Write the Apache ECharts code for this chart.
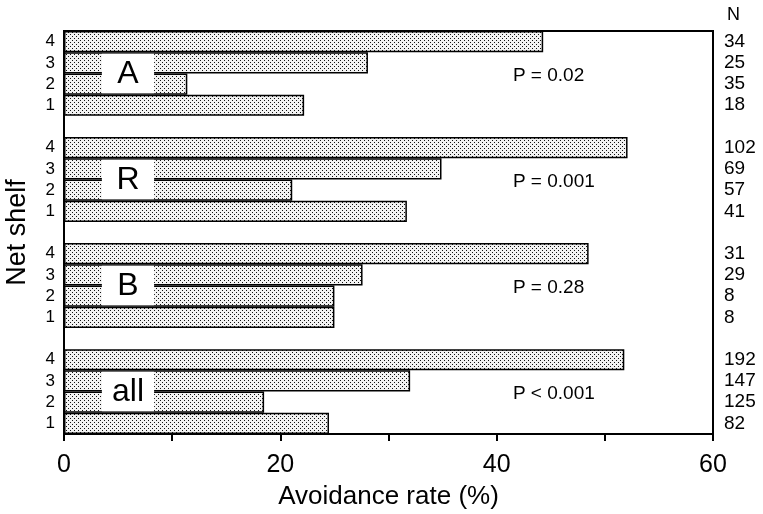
<!DOCTYPE html>
<html>
<head>
<meta charset="utf-8">
<title>Avoidance rate by net shelf</title>
<script src="https://cdn.jsdelivr.net/npm/echarts@6/dist/echarts.min.js"></script>
<style>
  html, body { margin: 0; padding: 0; background: #fff; }
  #main { width: 763px; height: 514px; }
</style>
</head>
<body>
<div id="main"></div>
<script type="text/javascript">
// data
var groups = ['A', 'R', 'B', 'all'];
var shelves = ['4', '3', '2', '1'];
var rateA = [44.3, 28.1, 11.4, 22.2];
var rateR = [52.1, 34.9, 21.1, 31.7];
var rateB = [48.5, 27.6, 25.0, 25.0];
var rateAll = [51.8, 32.0, 18.5, 24.5];
var nA = [34, 25, 35, 18];
var nR = [102, 69, 57, 41];
var nB = [31, 29, 8, 8];
var nAll = [192, 147, 125, 82];
var pLabels = ['P = 0.02', 'P = 0.001', 'P = 0.28', 'P < 0.001'];
var xTicks = [0, 20, 40, 60];

var rates = [rateA, rateR, rateB, rateAll];
var counts = [nA, nR, nB, nAll];

// build the category slots: 4 shelves per group, one empty slot between groups
var cats = [], shelfLab = [], nLab = [], barData = [];
groups.forEach(function (g, gi) {
    shelves.forEach(function (s, si) {
        cats.push(g + s);
        shelfLab.push(s);
        nLab.push(String(counts[gi][si]));
        barData.push(rates[gi][si]);
    });
    if (gi < groups.length - 1) {
        cats.push(g + '_gap');
        shelfLab.push('');
        nLab.push('');
        barData.push('-');
    }
});

// stipple fill
var tile = document.createElement('canvas');
tile.width = 4; tile.height = 4;
var tc = tile.getContext('2d');
tc.fillStyle = '#f2f2f2';
tc.fillRect(0, 0, 4, 4);
tc.fillStyle = '#111';
tc.fillRect(0, 0, 1, 1);
tc.fillRect(2, 2, 1, 1);

var font = "'Liberation Sans', Arial, sans-serif";

// annotation rows: x value, index of shelf 3 slot, index of shelf 2 slot
var boxData = groups.map(function (g, gi) { return [3.5, gi * 5 + 1, gi * 5 + 2]; });
var pData = groups.map(function (g, gi) { return [41.5, gi * 5 + 1, gi * 5 + 2]; });

var myChart = echarts.init(document.getElementById('main'));

var option = {
    backgroundColor: '#fff',
    animation: false,
    textStyle: { fontFamily: font, color: '#000' },
    grid: {
        left: 64, right: 50, top: 31, bottom: 80,
        outerBoundsMode: 'none',
        containLabel: false,
        show: true, borderColor: '#000', borderWidth: 2, backgroundColor: 'transparent'
    },
    xAxis: {
        type: 'value',
        min: 0, max: 60, interval: 10,
        name: 'Avoidance rate (%)',
        nameLocation: 'middle',
        nameGap: 50,
        nameTextStyle: { fontSize: 26, color: '#000', fontFamily: font },
        axisLine: { show: true, lineStyle: { color: '#000', width: 2 } },
        axisTick: { show: true, inside: false, length: 7, lineStyle: { color: '#000', width: 2 } },
        axisLabel: {
            fontSize: 25, color: '#000', margin: 19, fontFamily: font,
            formatter: function (v) { return xTicks.indexOf(v) >= 0 ? String(v) : ''; }
        },
        splitLine: { show: false }
    },
    yAxis: [
        {
            type: 'category',
            data: cats,
            inverse: true,
            name: 'Net shelf',
            nameLocation: 'middle',
            nameGap: 33,
            nameRotate: 90,
            nameTextStyle: { fontSize: 27, color: '#000', fontFamily: font },
            axisLine: { show: true, lineStyle: { color: '#000', width: 2 } },
            axisTick: { show: false },
            axisLabel: {
                interval: 0,
                fontSize: 17, color: '#000', margin: 9, fontFamily: font,
                formatter: function (v, i) { return shelfLab[i]; }
            }
        },
        {
            type: 'category',
            data: cats,
            inverse: true,
            position: 'right',
            name: 'N',
            nameLocation: 'start',
            nameGap: 7,
            nameTextStyle: { fontSize: 18, color: '#000', fontFamily: font, align: 'left', padding: [0, 0, 0, 14] },
            axisLine: { show: true, lineStyle: { color: '#000', width: 2 } },
            axisTick: { show: false },
            axisLabel: {
                interval: 0,
                fontSize: 19, color: '#000', margin: 11, fontFamily: font,
                formatter: function (v, i) { return nLab[i]; }
            }
        }
    ],
    series: [
        {
            name: 'rate',
            type: 'bar',
            yAxisIndex: 0,
            barWidth: '100%',
            barCategoryGap: '0%',
            itemStyle: {
                color: { image: tile, repeat: 'repeat' },
                borderColor: '#000',
                borderWidth: 1.5
            },
            data: barData
        },
        {
            // group letters in white boxes
            type: 'custom',
            yAxisIndex: 0,
            z: 5,
            encode: { x: 0, y: 1 },
            data: boxData,
            renderItem: function (params, api) {
                var band = api.size([0, 1])[1];
                var p3 = api.coord([api.value(0), api.value(1)]);
                var p2 = api.coord([api.value(0), api.value(2)]);
                var right = api.coord([8.33, api.value(1)]);
                var top = p3[1] - band / 2 + 1.5;
                var bottom = p2[1] + band / 2 - 1.5;
                return {
                    type: 'group',
                    children: [
                        {
                            type: 'rect',
                            shape: { x: p3[0], y: top, width: right[0] - p3[0], height: bottom - top },
                            style: { fill: '#fff' }
                        },
                        {
                            type: 'text',
                            x: (p3[0] + right[0]) / 2,
                            y: (top + bottom) / 2 + 1,
                            style: {
                                text: groups[params.dataIndex],
                                font: '32px ' + font,
                                fill: '#000',
                                align: 'center',
                                verticalAlign: 'middle'
                            }
                        }
                    ]
                };
            }
        },
        {
            // P values
            type: 'custom',
            yAxisIndex: 0,
            z: 5,
            encode: { x: 0, y: 1 },
            data: pData,
            renderItem: function (params, api) {
                var p3 = api.coord([api.value(0), api.value(1)]);
                var p2 = api.coord([api.value(0), api.value(2)]);
                return {
                    type: 'text',
                    x: p3[0],
                    y: (p3[1] + p2[1]) / 2 + 2,
                    style: {
                        text: pLabels[params.dataIndex],
                        font: '19px ' + font,
                        fill: '#000',
                        align: 'left',
                        verticalAlign: 'middle'
                    }
                };
            }
        }
    ]
};

myChart.setOption(option);
window.addEventListener('resize', function () {
    myChart.resize();
});
</script>
</body>
</html>
